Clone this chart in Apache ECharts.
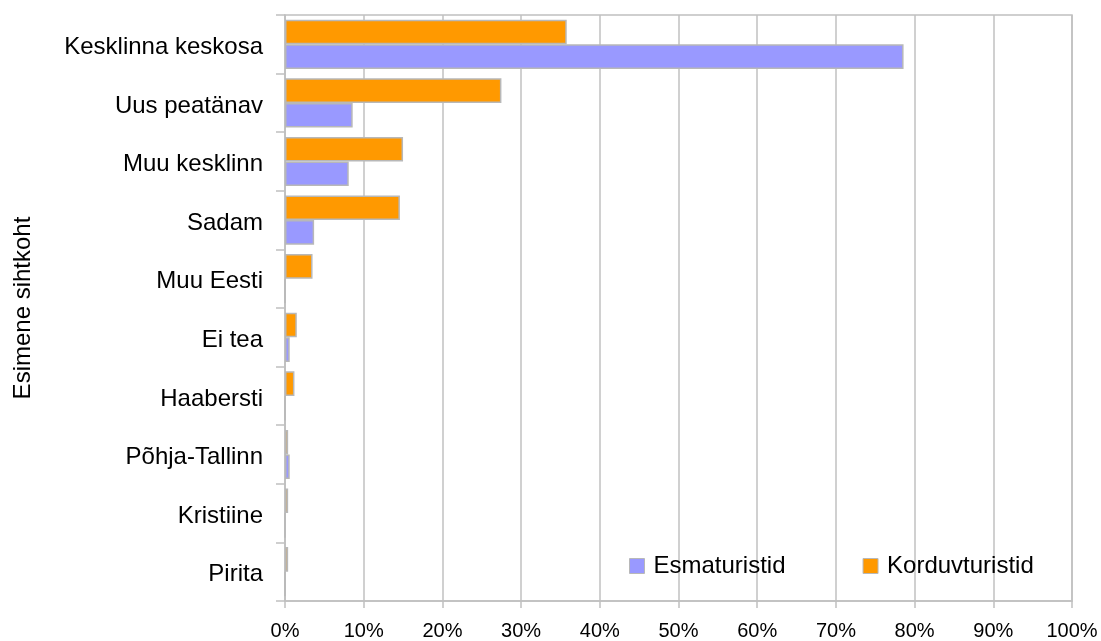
<!DOCTYPE html>
<html><head><meta charset="utf-8">
<script src="https://cdn.jsdelivr.net/npm/echarts@6/dist/echarts.min.js"></script>
<style>html,body{margin:0;padding:0;background:#fff}#c{width:1101px;height:641px}</style>
</head><body><div id="c"></div>
<script>
const categories = ['Kesklinna keskosa','Uus peatänav','Muu kesklinn','Sadam','Muu Eesti','Ei tea','Haabersti','Põhja-Tallinn','Kristiine','Pirita'];
const esmaturistid = [78.6, 8.6, 8.1, 3.7, 0, 0.6, 0, 0.6, 0, 0];
const korduvturistid = [35.8, 27.5, 15.0, 14.6, 3.5, 1.5, 1.2, 0.4, 0.4, 0.4];
const xTicks = [0,10,20,30,40,50,60,70,80,90,100];

const chart = echarts.init(document.getElementById('c'), null, {renderer:'canvas'});
const font = 'Liberation Sans, Arial, sans-serif';
chart.setOption({
  animation:false,
  textStyle:{fontFamily:font},
  grid:{left:285, right:29, top:15, bottom:38, containLabel:false,
        show:true, borderColor:'#c0c0c0', borderWidth:1.5},
  legend:{
    data:['Esmaturistid','Korduvturistid'],
    left:624, top:549, itemWidth:15, itemHeight:15, itemGap:77,
    icon:'rect',
    itemStyle:{borderColor:'#b8b8b8', borderWidth:1},
    textStyle:{fontSize:24, color:'#000', fontFamily:font, padding:[0,0,0,4]}
  },
  xAxis:{
    type:'value', min:0, max:100, interval:10,
    axisLine:{show:true, lineStyle:{color:'#c0c0c0', width:1.5}},
    axisTick:{show:true, length:7, lineStyle:{color:'#c0c0c0', width:1.5}},
    splitLine:{show:true, lineStyle:{color:'#c0c0c0', width:1.5}},
    axisLabel:{fontSize:20, color:'#000', margin:20, fontFamily:font,
      formatter:v=>xTicks.includes(v)? v+'%':''}
  },
  yAxis:{
    type:'category', data:categories, inverse:true,
    name:'Esimene sihtkoht', nameLocation:'middle', nameGap:250, nameRotate:90,
    nameTextStyle:{fontSize:24, color:'#000', fontFamily:font},
    axisLine:{show:true, lineStyle:{color:'#c0c0c0', width:1.5}},
    axisTick:{show:true, length:9, lineStyle:{color:'#c0c0c0', width:1.5}},
    axisLabel:{color:'#000', margin:22, fontFamily:font,
      formatter:v=>'{a|'+v+'}',
      rich:{a:{fontSize:24, color:'#000', fontFamily:font, padding:[6,0,0,0]}}}
  },
  series:[
    {name:'Korduvturistid', type:'bar', data:korduvturistid, barGap:'0%', barCategoryGap:'16%',
     itemStyle:{color:'#ff9900', borderColor:'#b8b8b8', borderWidth:1.5}},
    {name:'Esmaturistid', type:'bar', data:esmaturistid, barGap:'0%', barCategoryGap:'16%',
     itemStyle:{color:'#9999ff', borderColor:'#b8b8b8', borderWidth:1.5}}
  ]
});
</script></body></html>
